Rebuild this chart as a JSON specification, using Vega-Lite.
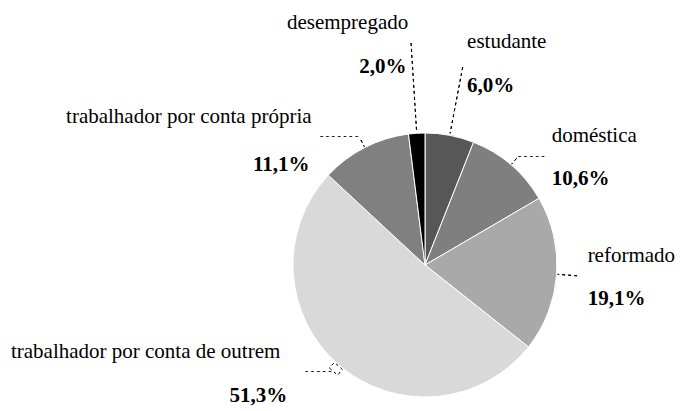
{
  "$schema": "https://vega.github.io/schema/vega-lite/v6.json",
  "width": 270,
  "height": 270,
  "autosize": {"type": "none"},
  "padding": {"left": 290, "top": 130, "right": 120, "bottom": 11},
  "background": "white",
  "config": {
    "view": {"stroke": null},
    "locale": {"number": {"decimal": ",", "thousands": ".", "grouping": [3], "currency": ["", " €"]}}
  },
  "data": {"values": [
    {"label": "estudante", "valor": 0.060, "ordem": 1},
    {"label": "doméstica", "valor": 0.106, "ordem": 2},
    {"label": "reformado", "valor": 0.191, "ordem": 3},
    {"label": "trabalhador por conta de outrem", "valor": 0.513, "ordem": 4},
    {"label": "trabalhador por conta própria", "valor": 0.111, "ordem": 5},
    {"label": "desempregado", "valor": 0.020, "ordem": 6}
  ]},
  "encoding": {
    "theta": {"field": "valor", "type": "quantitative", "stack": true},
    "order": {"field": "ordem", "type": "quantitative"},
    "detail": {"field": "label", "type": "nominal"}
  },
  "layer": [
    {
      "mark": {"type": "arc", "outerRadius": 132, "stroke": "white", "strokeWidth": 1},
      "encoding": {
        "color": {"field": "label", "type": "nominal", "legend": null,
          "scale": {
            "domain": ["estudante", "doméstica", "reformado", "trabalhador por conta de outrem", "trabalhador por conta própria", "desempregado"],
            "range": ["#575757", "#7f7f7f", "#a9a9a9", "#d9d9d9", "#808080", "#000000"]
          }}
      }
    },
    {
      "mark": {"type": "arc", "innerRadius": 134, "outerRadius": 222.5, "padAngle": 2, "fillOpacity": 0, "stroke": "black", "strokeWidth": 1, "strokeDash": [3, 3]},
      "encoding": {"strokeOpacity": {"condition": {"test": "datum.label === 'desempregado'", "value": 1}, "value": 0}}
    },
    {
      "mark": {"type": "arc", "innerRadius": 134, "outerRadius": 201.5, "padAngle": 2, "fillOpacity": 0, "stroke": "black", "strokeWidth": 1, "strokeDash": [3, 3]},
      "encoding": {"strokeOpacity": {"condition": {"test": "datum.label === 'estudante'", "value": 1}, "value": 0}}
    },
    {
      "mark": {"type": "arc", "innerRadius": 133, "outerRadius": 152.5, "padAngle": 2, "fillOpacity": 0, "stroke": "black", "strokeWidth": 1, "strokeDash": [3, 3]},
      "encoding": {"strokeOpacity": {"condition": {"test": "datum.label === 'reformado'", "value": 1}, "value": 0}}
    },
    {
      "mark": {"type": "arc", "innerRadius": 133, "outerRadius": 140.5, "padAngle": 2, "fillOpacity": 0, "stroke": "black", "strokeWidth": 1, "strokeDash": [3, 3]},
      "encoding": {"strokeOpacity": {"condition": {"test": "datum.label === 'doméstica' || datum.label === 'trabalhador por conta própria' || datum.label === 'trabalhador por conta de outrem'", "value": 1}, "value": 0}}
    },
    {
      "mark": {"type": "text", "radius": 150, "align": "left", "baseline": "alphabetic", "dx": -4.7, "dy": 8, "font": "Liberation Serif", "fontSize": 10, "fontWeight": "bold", "color": "black"},
      "encoding": {"text": {"condition": {"test": "datum.label === 'doméstica'", "value": "- - - - -"}, "value": ""}}
    },
    {
      "mark": {"type": "text", "radius": 150, "align": "left", "baseline": "alphabetic", "dx": -36.6, "dy": 7.8, "font": "Liberation Serif", "fontSize": 10, "fontWeight": "bold", "color": "black"},
      "encoding": {"text": {"condition": {"test": "datum.label === 'trabalhador por conta própria'", "value": "- - - - - - -"}, "value": ""}}
    },
    {
      "mark": {"type": "text", "radius": 150, "align": "left", "baseline": "alphabetic", "dx": -22.3, "dy": -4.5, "font": "Liberation Serif", "fontSize": 10, "fontWeight": "bold", "color": "black"},
      "encoding": {"text": {"condition": {"test": "datum.label === 'trabalhador por conta de outrem'", "value": "- - - - -"}, "value": ""}}
    },
    {
      "mark": {"type": "text", "radius": 150, "align": "left", "baseline": "alphabetic", "dx": 14, "dy": -70, "font": "Liberation Serif", "fontSize": 21, "color": "black"},
      "encoding": {"text": {"condition": {"test": "datum.label === 'estudante'", "field": "label", "type": "nominal"}, "value": ""}}
    },
    {
      "mark": {"type": "text", "radius": 150, "align": "left", "baseline": "alphabetic", "dx": 14, "dy": -26, "font": "Liberation Serif", "fontSize": 21, "fontWeight": "bold", "color": "black"},
      "encoding": {"text": {"condition": {"test": "datum.label === 'estudante'", "field": "valor", "type": "quantitative", "format": ".1%"}, "value": ""}}
    },
    {
      "mark": {"type": "text", "radius": 150, "align": "left", "baseline": "alphabetic", "dx": 29, "dy": -9, "font": "Liberation Serif", "fontSize": 21, "color": "black"},
      "encoding": {"text": {"condition": {"test": "datum.label === 'doméstica'", "field": "label", "type": "nominal"}, "value": ""}}
    },
    {
      "mark": {"type": "text", "radius": 150, "align": "left", "baseline": "alphabetic", "dx": 29, "dy": 34, "font": "Liberation Serif", "fontSize": 21, "fontWeight": "bold", "color": "black"},
      "encoding": {"text": {"condition": {"test": "datum.label === 'doméstica'", "field": "valor", "type": "quantitative", "format": ".1%"}, "value": ""}}
    },
    {
      "mark": {"type": "text", "radius": 150, "align": "left", "baseline": "alphabetic", "dx": 13, "dy": -14, "font": "Liberation Serif", "fontSize": 21, "color": "black"},
      "encoding": {"text": {"condition": {"test": "datum.label === 'reformado'", "field": "label", "type": "nominal"}, "value": ""}}
    },
    {
      "mark": {"type": "text", "radius": 150, "align": "left", "baseline": "alphabetic", "dx": 13, "dy": 29, "font": "Liberation Serif", "fontSize": 21, "fontWeight": "bold", "color": "black"},
      "encoding": {"text": {"condition": {"test": "datum.label === 'reformado'", "field": "valor", "type": "quantitative", "format": ".1%"}, "value": ""}}
    },
    {
      "mark": {"type": "text", "radius": 150, "align": "right", "baseline": "alphabetic", "dx": -47, "dy": -21, "font": "Liberation Serif", "fontSize": 21, "color": "black"},
      "encoding": {"text": {"condition": {"test": "datum.label === 'trabalhador por conta de outrem'", "field": "label", "type": "nominal"}, "value": ""}}
    },
    {
      "mark": {"type": "text", "radius": 150, "align": "right", "baseline": "alphabetic", "dx": -40, "dy": 23, "font": "Liberation Serif", "fontSize": 21, "fontWeight": "bold", "color": "black"},
      "encoding": {"text": {"condition": {"test": "datum.label === 'trabalhador por conta de outrem'", "field": "valor", "type": "quantitative", "format": ".1%"}, "value": ""}}
    },
    {
      "mark": {"type": "text", "radius": 150, "align": "right", "baseline": "alphabetic", "dx": -45, "dy": -9, "font": "Liberation Serif", "fontSize": 21, "color": "black"},
      "encoding": {"text": {"condition": {"test": "datum.label === 'trabalhador por conta própria'", "field": "label", "type": "nominal"}, "value": ""}}
    },
    {
      "mark": {"type": "text", "radius": 150, "align": "right", "baseline": "alphabetic", "dx": -47, "dy": 39, "font": "Liberation Serif", "fontSize": 21, "fontWeight": "bold", "color": "black"},
      "encoding": {"text": {"condition": {"test": "datum.label === 'trabalhador por conta própria'", "field": "valor", "type": "quantitative", "format": ".1%"}, "value": ""}}
    },
    {
      "mark": {"type": "text", "radius": 150, "align": "center", "baseline": "alphabetic", "dx": -68, "dy": -86, "font": "Liberation Serif", "fontSize": 21, "color": "black"},
      "encoding": {"text": {"condition": {"test": "datum.label === 'desempregado'", "field": "label", "type": "nominal"}, "value": ""}}
    },
    {
      "mark": {"type": "text", "radius": 150, "align": "right", "baseline": "alphabetic", "dx": -9, "dy": -42, "font": "Liberation Serif", "fontSize": 21, "fontWeight": "bold", "color": "black"},
      "encoding": {"text": {"condition": {"test": "datum.label === 'desempregado'", "field": "valor", "type": "quantitative", "format": ".1%"}, "value": ""}}
    }
  ]
}
